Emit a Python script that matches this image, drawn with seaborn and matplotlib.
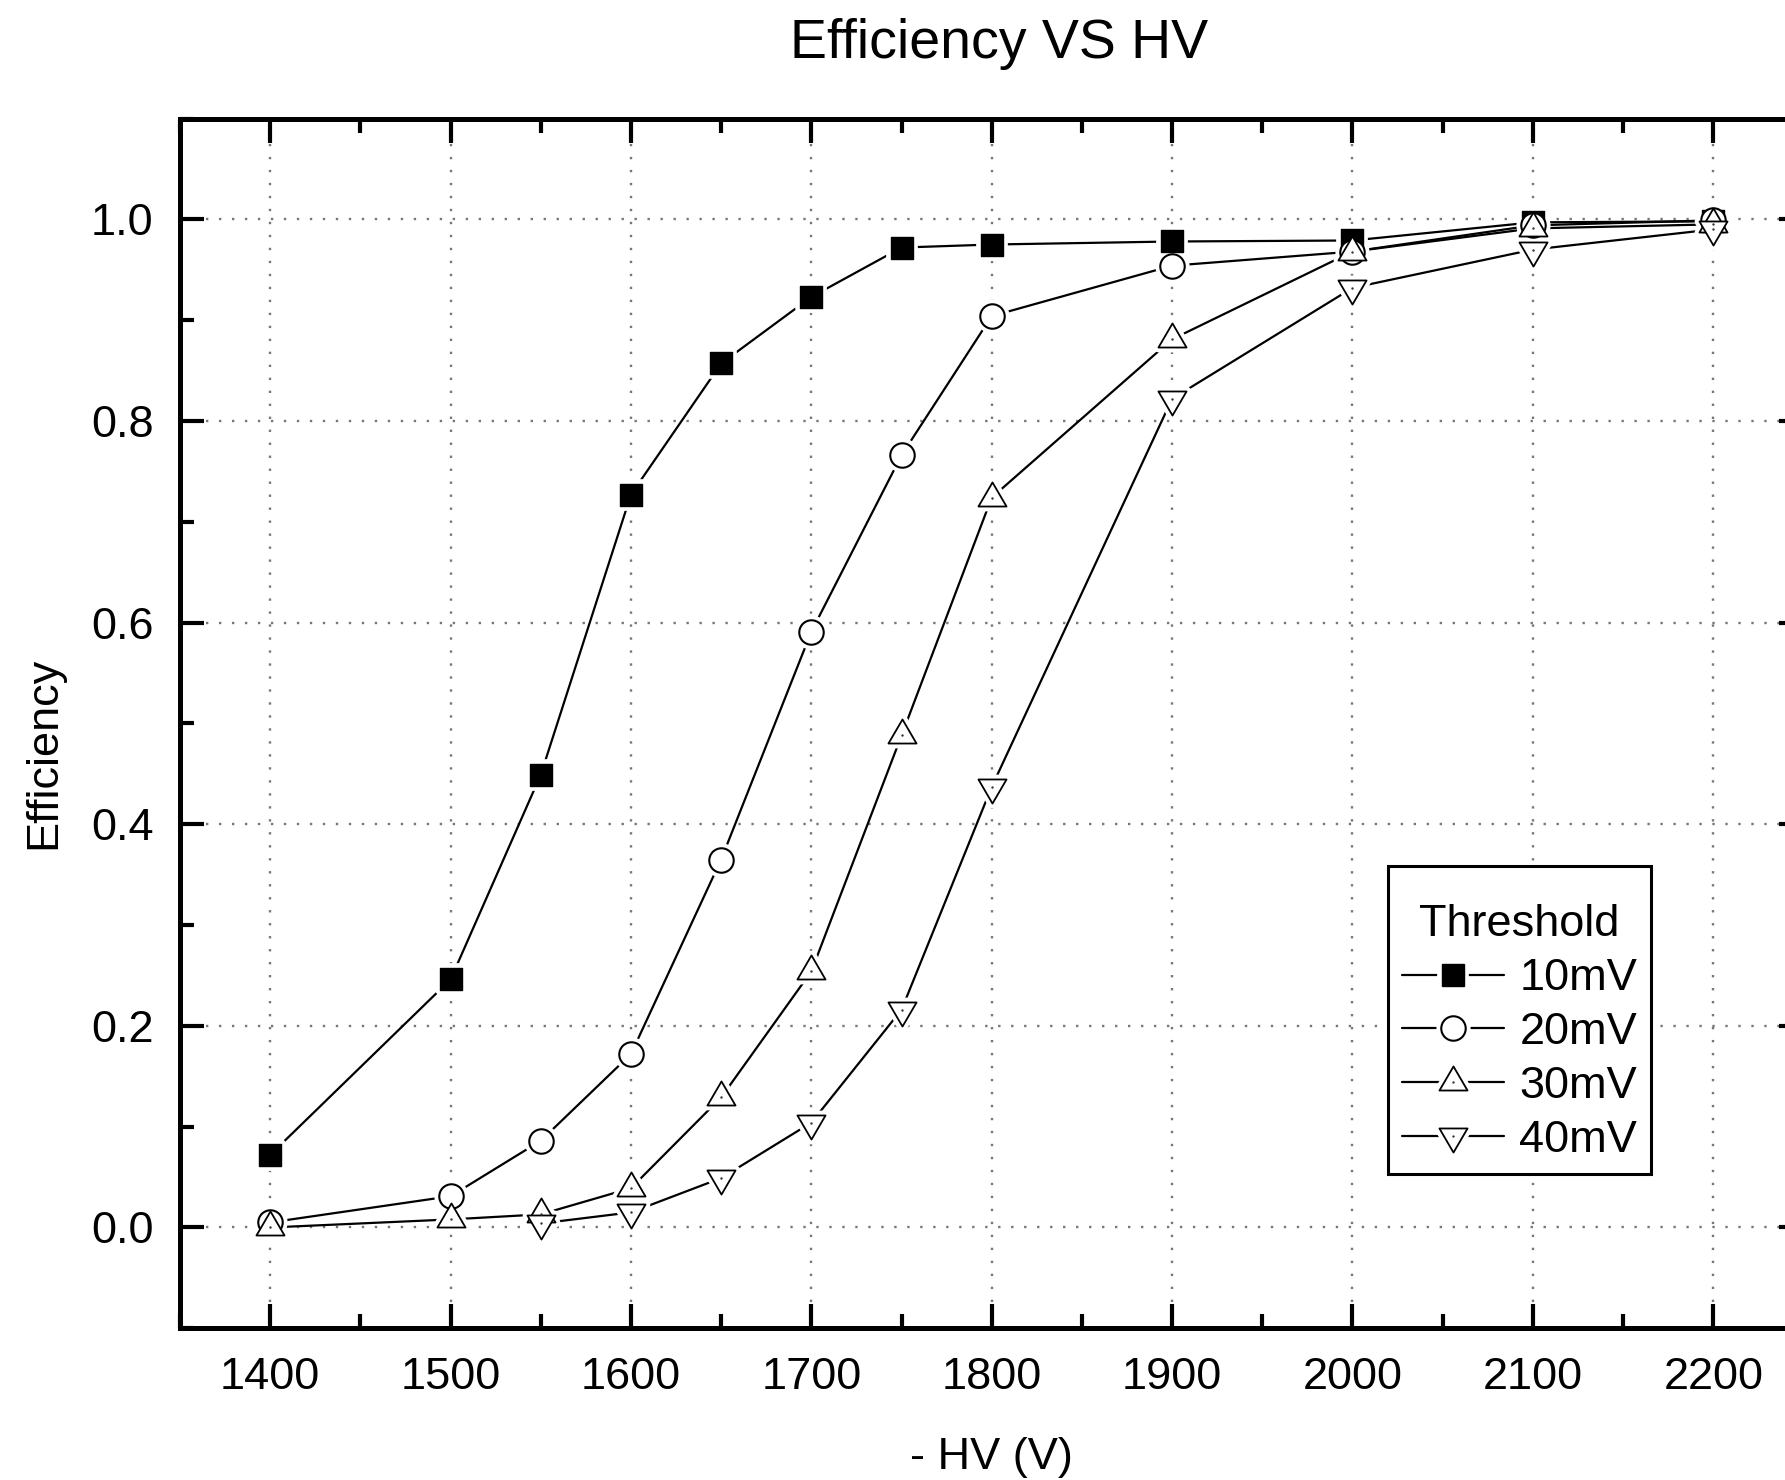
import pandas as pd
import seaborn as sns
import matplotlib.pyplot as plt
from matplotlib.path import Path
from matplotlib.lines import Line2D
from matplotlib.legend_handler import HandlerTuple
from matplotlib.ticker import MultipleLocator, FormatStrFormatter

# data
hv_main = [1400, 1500, 1550, 1600, 1650, 1700, 1750, 1800, 1900, 2000, 2100, 2200]
hv_40 = [1550, 1600, 1650, 1700, 1750, 1800, 1900, 2000, 2100, 2200]
eff_10 = [0.072, 0.246, 0.449, 0.727, 0.857, 0.923, 0.972, 0.975, 0.978, 0.979, 0.997, 0.998]
eff_20 = [0.005, 0.031, 0.086, 0.172, 0.365, 0.591, 0.766, 0.904, 0.954, 0.968, 0.994, 0.999]
eff_30 = [0.000, 0.008, 0.013, 0.039, 0.129, 0.254, 0.488, 0.724, 0.881, 0.968, 0.991, 0.995]
eff_40 = [0.004, 0.015, 0.049, 0.104, 0.216, 0.437, 0.822, 0.932, 0.970, 0.990]
thresholds = ['10mV', '20mV', '30mV', '40mV']

df = pd.concat([
    pd.DataFrame({'hv': hv_main, 'eff': eff_10, 'thr': '10mV'}),
    pd.DataFrame({'hv': hv_main, 'eff': eff_20, 'thr': '20mV'}),
    pd.DataFrame({'hv': hv_main, 'eff': eff_30, 'thr': '30mV'}),
    pd.DataFrame({'hv': hv_40, 'eff': eff_40, 'thr': '40mV'}),
], ignore_index=True)


def triangle(up=True):
    # Origin-style triangle, a bit wider than tall, centred on its centroid
    h = 0.857
    s = 1 if up else -1
    pts = [(0, s * 2 * h / 3), (-0.5, -s * h / 3), (0.5, -s * h / 3), (0, s * 2 * h / 3)]
    return Path(pts, [Path.MOVETO, Path.LINETO, Path.LINETO, Path.CLOSEPOLY])


styles = {
    '10mV': dict(marker='s', size=15.6, face='black', lw=1.0, dot=False),
    '20mV': dict(marker='o', size=17.6, face='white', lw=1.5, dot=False),
    '30mV': dict(marker=triangle(True), size=23.1, face='white', lw=1.3, dot=True),
    '40mV': dict(marker=triangle(False), size=23.1, face='white', lw=1.3, dot=True),
}

sns.set_style('ticks')
plt.rcParams['font.family'] = ['Liberation Sans', 'DejaVu Sans']
plt.rcParams.update({'text.color': 'black', 'axes.labelcolor': 'black',
                     'xtick.color': 'black', 'ytick.color': 'black'})
fs = 32.5

fig = plt.figure(figsize=(17.85, 14.8), dpi=100)
ax = fig.add_axes([0.10084, 0.10250, 0.9095, 0.81743])

# connecting lines
sns.lineplot(data=df, x='hv', y='eff', hue='thr', palette=['black'] * 4,
             linewidth=1.6, legend=False, errorbar=None, ax=ax, zorder=2)

# white halo, then the marker itself
for name in thresholds:
    sub = df[df['thr'] == name]
    st = styles[name]
    sns.scatterplot(x=sub['hv'], y=sub['eff'], marker=st['marker'], s=st['size'] ** 2,
                    color='white', edgecolor='white', linewidth=7, legend=False,
                    ax=ax, zorder=3)
    sns.scatterplot(x=sub['hv'], y=sub['eff'], marker=st['marker'], s=st['size'] ** 2,
                    color=st['face'], edgecolor='black', linewidth=st['lw'], legend=False,
                    ax=ax, zorder=4)
    if st['dot']:
        sns.scatterplot(x=sub['hv'], y=sub['eff'], marker='o', s=3.0, color='#333333',
                        linewidth=0, legend=False, ax=ax, zorder=5)

ax.set_xlim(1350, 2250)
ax.set_ylim(-0.1, 1.1)
ax.xaxis.set_major_locator(MultipleLocator(100))
ax.xaxis.set_minor_locator(MultipleLocator(50))
ax.yaxis.set_major_locator(MultipleLocator(0.2))
ax.yaxis.set_minor_locator(MultipleLocator(0.1))
ax.yaxis.set_major_formatter(FormatStrFormatter('%.1f'))

ax.grid(True, which='major', color='#777777', linestyle=(0, (1, 4.5)), linewidth=1.7)
ax.set_axisbelow(True)

for sp in ax.spines.values():
    sp.set_visible(True)
    sp.set_color('black')
    sp.set_linewidth(3.6)

ax.tick_params(which='both', direction='in', top=True, right=True, color='black',
               labelcolor='black', width=3.0, labelsize=fs)
ax.tick_params(which='major', length=17.6)
ax.tick_params(which='minor', length=10)
ax.tick_params(axis='x', pad=21)
ax.tick_params(axis='y', pad=19)

ax.set_xlabel('- HV (V)', fontsize=fs, va='baseline')
ax.xaxis.set_label_coords(0.5, -0.1159)
ax.set_ylabel('Efficiency', fontsize=fs, va='baseline')
ax.yaxis.set_label_coords(-0.0770, 0.4755)
ax.set_title('Efficiency VS HV', fontsize=40, x=0.5045, y=1.0434, va='baseline')

# legend: line with a gap around the marker, like the original
handles = []
for name in thresholds:
    st = styles[name]
    parts = [
        Line2D([], [], color='black', lw=1.6),
        Line2D([], [], ls='none', marker=st['marker'], ms=st['size'],
               mfc='white', mec='white', mew=7),
        Line2D([], [], ls='none', marker=st['marker'], ms=st['size'],
               mfc=st['face'], mec='black', mew=st['lw']),
    ]
    if st['dot']:
        parts.append(Line2D([], [], ls='none', marker='o', ms=1.7, mfc='#333333', mew=0))
    handles.append(tuple(parts))

# leading blank line (squeezed) gives the extra room above the title
leg = ax.legend(handles, thresholds, handler_map={tuple: HandlerTuple(ndivide=1, pad=0)},
                title='\nThreshold', fontsize=fs, title_fontsize=fs,
                loc='upper left', bbox_to_anchor=(0.7776, 0.4149),
                bbox_transform=fig.transFigure, borderaxespad=0,
                handlelength=2.28, handletextpad=0.33, borderpad=0.3,
                labelspacing=0.285, fancybox=False, framealpha=1)
leg.get_title().set_linespacing(0.5)
leg.get_frame().set_edgecolor('black')
leg.get_frame().set_linewidth(2.2)
leg.set_zorder(10)

plt.savefig('out.png', dpi=100)
